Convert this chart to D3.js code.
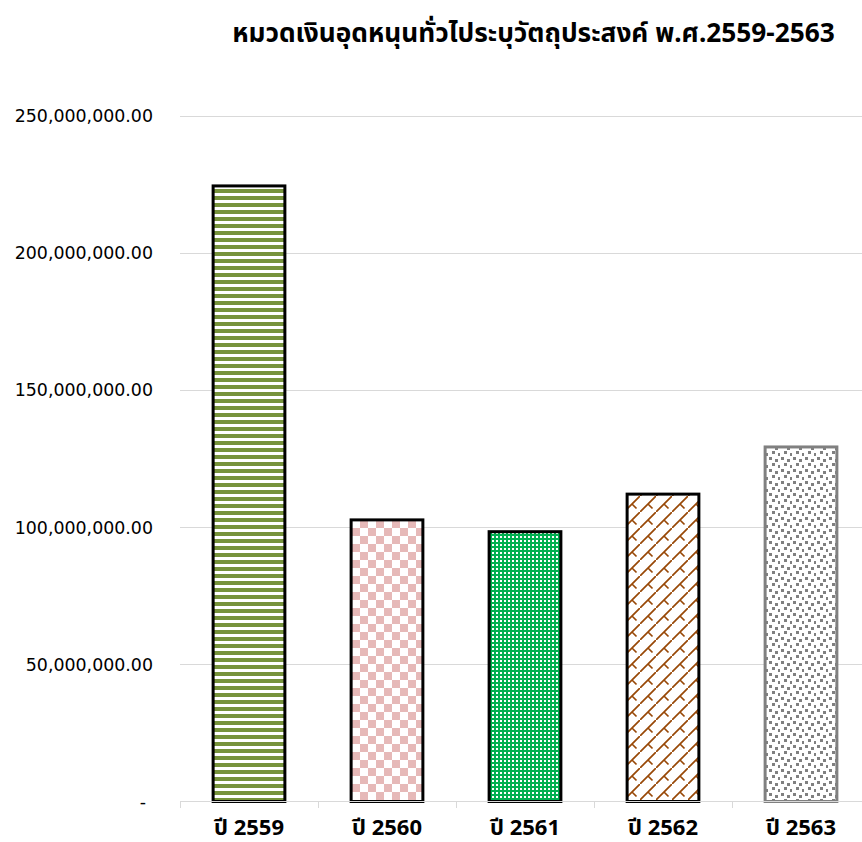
<!DOCTYPE html>
<html><head><meta charset="utf-8">
<script src="https://cdn.jsdelivr.net/npm/d3@7"></script>
<style>
body{margin:0;background:#fff;}
svg{display:block;font-family:"Noto Sans","Noto Sans Thai",sans-serif;}
</style></head><body>
<svg id="c" width="862" height="842"></svg>
<script>
const title = "หมวดเงินอุดหนุนทั่วไประบุวัตถุประสงค์ พ.ศ.2559-2563";
const categories = ["ปี 2559","ปี 2560","ปี 2561","ปี 2562","ปี 2563"];
const values = [224500000, 102700000, 98400000, 112100000, 129300000];
const yTicks = [0, 50000000, 100000000, 150000000, 200000000, 250000000];

const svg = d3.select("#c");
const W = 862, H = 842;
const plot = {left:180, right:870, top:116, bottom:801.5};

const defs = svg.append("defs");
function pat(id, w, h){
  const p = defs.append("pattern").attr("id",id).attr("patternUnits","userSpaceOnUse")
    .attr("width",w).attr("height",h).attr("shape-rendering","crispEdges");
  p.append("rect").attr("width",w).attr("height",h).attr("fill","#fff");
  return p;
}
// horizontal green stripes
let p = pat("p0",7,7);
p.append("rect").attr("width",7).attr("height",4).attr("fill","#77933C");
// pink checkerboard
p = pat("p1",16,16);
p.append("rect").attr("width",8).attr("height",8).attr("fill","#E6B9B8");
p.append("rect").attr("x",8).attr("y",8).attr("width",8).attr("height",8).attr("fill","#E6B9B8");
// green with white dots
p = pat("p2",4,4);
p.select("rect").attr("fill","#00B050");
p.append("rect").attr("x",0).attr("y",0).attr("width",2).attr("height",2).attr("fill","#fff");
// brown shingle
p = pat("p3",16,16);
p.attr("shape-rendering",null);
p.append("path").attr("d","M-1,17 L17,-1 M8,8 L12.5,12.5")
  .attr("stroke","#984807").attr("stroke-width",1.7).attr("fill","none");
// gray confetti
p = pat("p4",12,12);
[[1,1],[7,3],[4,7],[10,9]].forEach(([x,y])=>{
  p.append("rect").attr("x",x).attr("y",y).attr("width",3).attr("height",3).attr("fill","#808080");
});
p.append("rect").attr("x",10).attr("y",0).attr("width",2).attr("height",0).attr("fill","#808080");

const fills = ["url(#p0)","url(#p1)","url(#p2)","url(#p3)","url(#p4)"];
const strokes = ["#000","#000","#000","#000","#808080"];

const x = d3.scaleBand().domain(categories).range([plot.left, plot.right]).paddingInner(0.48).paddingOuter(0.24);
const y = d3.scaleLinear().domain([0,250000000]).range([plot.bottom, plot.top]);

// gridlines
svg.append("g").selectAll("line").data(yTicks.filter(d=>d>0)).join("line")
  .attr("x1",plot.left).attr("x2",W).attr("y1",d=>Math.round(y(d))+0.5).attr("y2",d=>Math.round(y(d))+0.5)
  .attr("stroke","#D9D9D9").attr("stroke-width",1);

// y labels
const fmt = d3.format(",.2f");
svg.append("g").selectAll("text").data(yTicks).join("text")
  .attr("x",d=>d===0?146:153).attr("y",d=>y(d)).attr("dy","0.36em")
  .attr("text-anchor","end").attr("font-size",17.4).attr("font-family","'DejaVu Sans',sans-serif").attr("fill","#000")
  .text(d=>d===0?"-":fmt(d));

// bars
svg.append("g").selectAll("rect").data(values).join("rect")
  .attr("x",(d,i)=>x(categories[i])).attr("width",x.bandwidth())
  .attr("y",d=>y(d)).attr("height",d=>plot.bottom-y(d))
  .attr("fill",(d,i)=>fills[i]).attr("stroke",(d,i)=>strokes[i]).attr("stroke-width",3);

// x axis line and ticks
const xa = svg.append("g");
xa.append("line").attr("x1",plot.left).attr("x2",W).attr("y1",801.5).attr("y2",801.5).attr("stroke","#D9D9D9");
const bounds = d3.range(0, categories.length+1).map(i=>plot.left + i*(plot.right-plot.left)/categories.length);
xa.selectAll("line.t").data(bounds).join("line").attr("class","t")
  .attr("x1",d=>Math.round(d)+0.5).attr("x2",d=>Math.round(d)+0.5).attr("y1",801.5).attr("y2",808)
  .attr("stroke","#D9D9D9");
xa.selectAll("text").data(categories).join("text")
  .attr("x",d=>x(d)+x.bandwidth()/2).attr("y",835)
  .attr("text-anchor","middle").attr("font-size",22).attr("font-weight","bold").attr("fill","#000")
  .text(d=>d);

// title
const t = svg.append("text").attr("x",533.5).attr("y",42).attr("text-anchor","middle")
  .attr("font-size",22).attr("font-weight","bold").attr("fill","#000").text(title);
const len = t.node().getComputedTextLength();
t.attr("font-size", 22*603/len);
</script>
</body></html>
